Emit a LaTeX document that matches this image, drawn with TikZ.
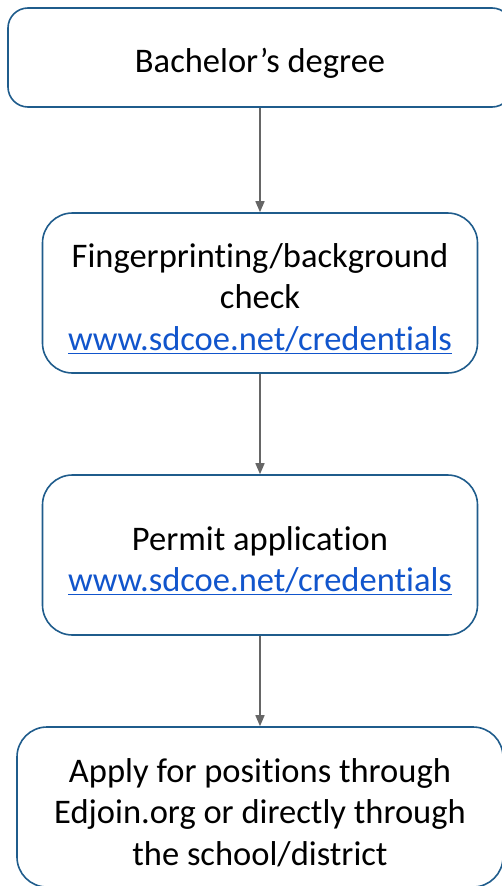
\documentclass[tikz,border=0pt]{standalone}
\usepackage{fontspec}
\setmainfont{Carlito}[Ligatures=NoCommon]
\usetikzlibrary{arrows.meta}
\definecolor{boxblue}{RGB}{31,92,140}
\definecolor{linkblue}{RGB}{17,85,204}
\definecolor{flowgray}{RGB}{102,102,102}
\newcommand{\weblink}[1]{\textcolor{linkblue}{\underline{#1}}}
\newcommand{\topstrut}{\rule{0pt}{35pt}}
\tikzset{
	stepbox/.style={draw=boxblue,line width=1.6pt,fill=white,align=center,inner sep=0pt,
		font=\fontsize{34.5}{41.5}\selectfont},
	flow/.style={draw=flowgray,line width=1.6pt,-{Triangle[length=11pt,width=9pt]}}
}
\begin{document}
\begin{tikzpicture}[x=1pt,y=-1pt]
			\useasboundingbox (0,0) rectangle (502,886);
			\clip (0,0) rectangle (502,886);
			\node (Bd) at (260,57.5) [stepbox,minimum width=504pt,minimum height=99pt,rounded corners=20pt] {\topstrut Bachelor’s degree};
			\node (Fp) at (260,293) [stepbox,minimum width=435pt,minimum height=160pt,rounded corners=30pt] {\topstrut Fingerprinting/background\\check\\\weblink{www.sdcoe.net/credentials}};
			\node (Pa) at (260,555) [stepbox,minimum width=435pt,minimum height=160pt,rounded corners=30pt] {\topstrut Permit application\\\weblink{www.sdcoe.net/credentials}};
			\node (Ap) at (260,807) [stepbox,minimum width=486pt,minimum height=160pt,rounded corners=30pt] {\topstrut Apply for positions through\\Edjoin.org or directly through\\the school/district};
			\draw[flow] (Bd) -- (Fp);
			\draw[flow] (Fp) -- (Pa);
			\draw[flow] (Pa) -- (Ap);
		\end{tikzpicture}
\end{document}
